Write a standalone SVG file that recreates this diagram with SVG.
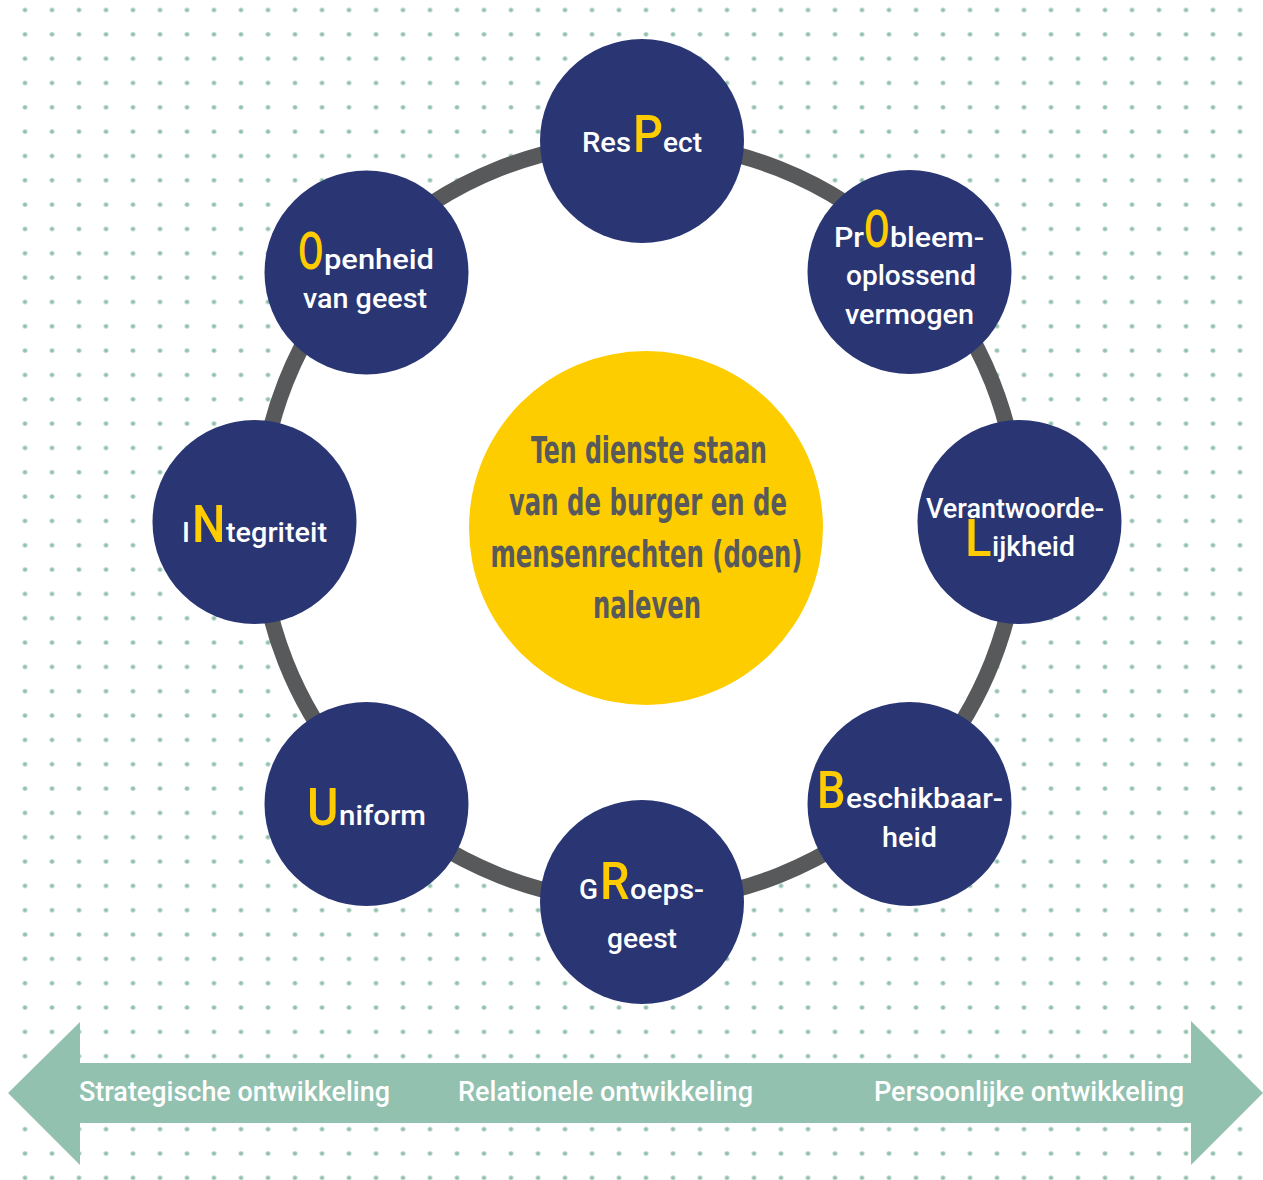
<svg xmlns="http://www.w3.org/2000/svg" width="1263" height="1180" viewBox="0 0 1263 1180">
  <style>
    .node circle { fill: #293673; }
    .t { font-family: Roboto, "DejaVu Sans", sans-serif; font-weight: 500; font-size: 28px; fill: #ffffff; }
    .big { font-size: 52px; fill: #ffcc00; }
    .center-t { font-family: "DejaVu Sans Condensed", "DejaVu Sans", sans-serif; font-stretch: condensed; font-weight: bold; font-size: 38px; fill: #58595b; }
    .arrow-t { font-family: Roboto, "DejaVu Sans", sans-serif; font-weight: 500; font-size: 27px; fill: #ffffff; }
  </style>
  <defs>
    <pattern id="dots" patternUnits="userSpaceOnUse" x="11.5" y="-2.165" width="27" height="24.33">
      <circle cx="13.5" cy="12.165" r="2.3" fill="#93c1b0"/>
    </pattern>
  </defs>

  <rect width="1263" height="1180" fill="#ffffff"/>
  <rect x="11.5" y="0" width="1243" height="1180" fill="url(#dots)"/>

  <g id="connectors">
    <circle id="ring" cx="639" cy="522" r="380" fill="#ffffff" stroke="#58595b" stroke-width="16"/>
  </g>

  <g id="center">
    <circle cx="646" cy="528" r="177" fill="#fecd00"/>
    <text class="center-t">
      <tspan x="531" y="463" textLength="236" lengthAdjust="spacingAndGlyphs">Ten dienste staan</tspan>
      <tspan x="509" y="515" textLength="278" lengthAdjust="spacingAndGlyphs">van de burger en de</tspan>
      <tspan x="490.5" y="567" textLength="312" lengthAdjust="spacingAndGlyphs">mensenrechten (doen)</tspan>
      <tspan x="593" y="618" textLength="108" lengthAdjust="spacingAndGlyphs">naleven</tspan>
    </text>
  </g>

  <g id="node-respect" class="node">
    <circle cx="642" cy="141" r="102"/>
    <text class="t" y="152"><tspan x="582" textLength="49" lengthAdjust="spacingAndGlyphs">Res</tspan><tspan class="big" x="633" textLength="30" lengthAdjust="spacingAndGlyphs">P</tspan><tspan x="663" textLength="39" lengthAdjust="spacingAndGlyphs">ect</tspan></text>
  </g>

  <g id="node-probleem" class="node">
    <circle cx="909.5" cy="272" r="102"/>
    <text class="t"><tspan x="834" y="247" textLength="30" lengthAdjust="spacingAndGlyphs">Pr</tspan><tspan class="big" x="864" y="247" textLength="25.5" lengthAdjust="spacingAndGlyphs">O</tspan><tspan x="890" y="247" textLength="94" lengthAdjust="spacingAndGlyphs">bleem-</tspan><tspan x="846" y="285" textLength="130" lengthAdjust="spacingAndGlyphs">oplossend</tspan><tspan x="845" y="324" textLength="129" lengthAdjust="spacingAndGlyphs">vermogen</tspan></text>
  </g>

  <g id="node-verantwoordelijkheid" class="node">
    <circle cx="1019.5" cy="522" r="102"/>
    <text class="t"><tspan x="926" y="518" textLength="178" lengthAdjust="spacingAndGlyphs">Verantwoorde-</tspan><tspan class="big" x="965" y="556" textLength="26.5" lengthAdjust="spacingAndGlyphs">L</tspan><tspan x="992" y="556" textLength="83" lengthAdjust="spacingAndGlyphs">ijkheid</tspan></text>
  </g>

  <g id="node-beschikbaarheid" class="node">
    <circle cx="909.5" cy="804" r="102"/>
    <text class="t"><tspan class="big" x="817" y="808" textLength="28.5" lengthAdjust="spacingAndGlyphs">B</tspan><tspan x="846" y="808" textLength="157" lengthAdjust="spacingAndGlyphs">eschikbaar-</tspan><tspan x="882" y="847" textLength="55" lengthAdjust="spacingAndGlyphs">heid</tspan></text>
  </g>

  <g id="node-roepsgeest" class="node">
    <circle cx="642" cy="902" r="102"/>
    <text class="t"><tspan x="579" y="899" textLength="19" lengthAdjust="spacingAndGlyphs">G</tspan><tspan class="big" x="600" y="899" textLength="29.5" lengthAdjust="spacingAndGlyphs">R</tspan><tspan x="630" y="899" textLength="74" lengthAdjust="spacingAndGlyphs">oeps-</tspan><tspan x="607" y="948" textLength="70" lengthAdjust="spacingAndGlyphs">geest</tspan></text>
  </g>

  <g id="node-uniform" class="node">
    <circle cx="366.5" cy="804" r="102"/>
    <text class="t" y="825"><tspan class="big" x="307" textLength="31.5" lengthAdjust="spacingAndGlyphs">U</tspan><tspan x="339" textLength="87" lengthAdjust="spacingAndGlyphs">niform</tspan></text>
  </g>

  <g id="node-integriteit" class="node">
    <circle cx="254.5" cy="522" r="102"/>
    <text class="t" y="542"><tspan x="182">I</tspan><tspan class="big" x="192" textLength="33.5" lengthAdjust="spacingAndGlyphs">N</tspan><tspan x="226" textLength="101" lengthAdjust="spacingAndGlyphs">tegriteit</tspan></text>
  </g>

  <g id="node-openheid" class="node">
    <circle cx="366.5" cy="272.5" r="102"/>
    <text class="t"><tspan class="big" x="298" y="269" textLength="25.5" lengthAdjust="spacingAndGlyphs">O</tspan><tspan x="324" y="269" textLength="110" lengthAdjust="spacingAndGlyphs">penheid</tspan><tspan x="303" y="308" textLength="124" lengthAdjust="spacingAndGlyphs">van geest</tspan></text>
  </g>

  <g id="timeline">
    <polygon points="8,1093 80,1022 80,1063 1191,1063 1191,1021 1263,1093 1191,1165 1191,1123 80,1123 80,1165" fill="#93c1b0"/>
    <text class="arrow-t" x="79" y="1101" textLength="311" lengthAdjust="spacingAndGlyphs">Strategische ontwikkeling</text>
    <text class="arrow-t" x="458" y="1101" textLength="295" lengthAdjust="spacingAndGlyphs">Relationele ontwikkeling</text>
    <text class="arrow-t" x="874" y="1101" textLength="310" lengthAdjust="spacingAndGlyphs">Persoonlijke ontwikkeling</text>
  </g>
</svg>
